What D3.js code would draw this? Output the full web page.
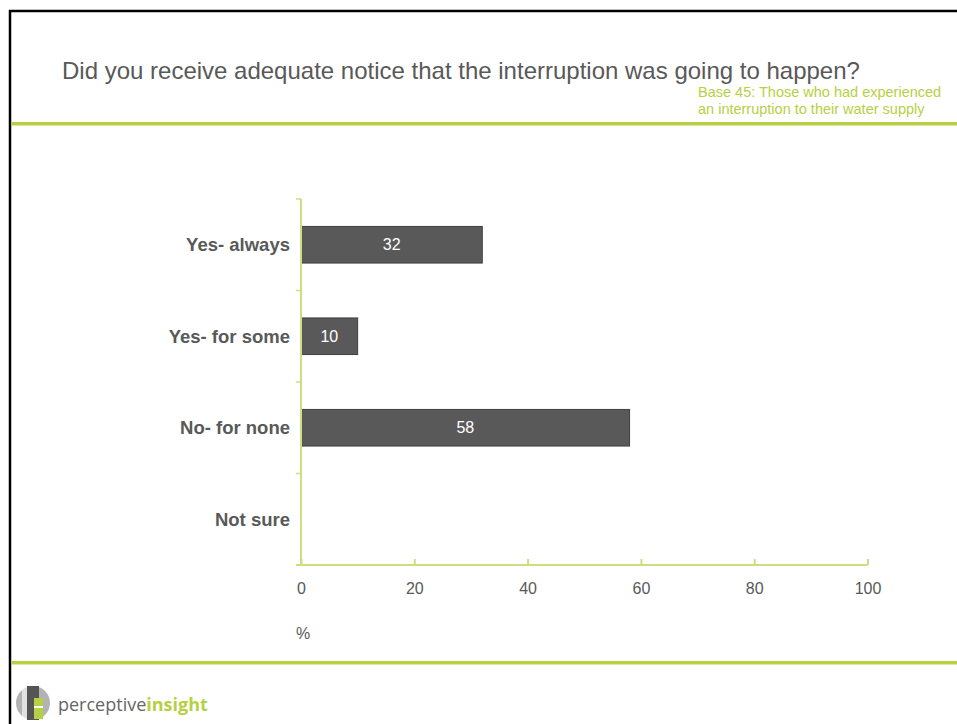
<!DOCTYPE html>
<html>
<head>
<meta charset="utf-8">
<script src="https://cdn.jsdelivr.net/npm/d3@7"></script>
<style>
  html, body { margin: 0; padding: 0; background: #fff; }
  svg { display: block; font-family: "Liberation Sans", Arial, sans-serif; }
</style>
</head>
<body>
<svg id="chart" width="957" height="724"></svg>
<script>
// Survey responses (% of respondents)
const categories = ["Yes- always", "Yes- for some", "No- for none", "Not sure"];
const values = [32, 10, 58, 0];
const xTicks = [0, 20, 40, 60, 80, 100];

const question = "Did you receive adequate notice that the interruption was going to happen?";
const baseNote = ["Base 45: Those who had experienced", "an interruption to their water supply"];

const grey = "#595959";
const green = "#b5d143";
const axisGreen = "#cbdf7f";

const svg = d3.select("#chart");

// slide frame
svg.append("path")
  .attr("d", "M10,724 V11 H957")
  .attr("fill", "none").attr("stroke", "#000").attr("stroke-width", 2.5);

// header
svg.append("text")
  .attr("x", 62).attr("y", 79)
  .attr("font-size", 24).attr("fill", grey)
  .text(question);

svg.append("text")
  .attr("x", 698).attr("y", 97)
  .attr("font-size", 14.5).attr("fill", green)
  .selectAll("tspan").data(baseNote).join("tspan")
  .attr("x", 698).attr("dy", (d, i) => i ? 17 : 0)
  .text(d => d);

svg.append("rect").attr("x", 11).attr("y", 122).attr("width", 946).attr("height", 3.5).attr("fill", green);
svg.append("rect").attr("x", 11).attr("y", 661).attr("width", 946).attr("height", 3.5).attr("fill", green);

// chart area
const x = d3.scaleLinear().domain([0, 100]).range([301, 867.5]);
const y = d3.scaleBand().domain(categories).range([199, 565]).paddingInner(0.6).paddingOuter(0.3);

const g = svg.append("g");

// bars
g.selectAll("rect.bar").data(values).join("rect")
  .attr("class", "bar")
  .attr("x", x(0))
  .attr("y", (d, i) => y(categories[i]))
  .attr("width", d => x(d) - x(0))
  .attr("height", y.bandwidth())
  .attr("fill", d => d > 0 ? grey : "none")
  .attr("stroke", d => d > 0 ? "#3f3f3f" : "none")
  .attr("stroke-width", 1);

// value labels
g.selectAll("text.val").data(values.map((v, i) => [v, i]).filter(d => d[0] > 0)).join("text")
  .attr("class", "val")
  .attr("x", d => (x(0) + x(d[0])) / 2)
  .attr("y", d => y(categories[d[1]]) + y.bandwidth() / 2)
  .attr("dy", "0.35em")
  .attr("text-anchor", "middle")
  .attr("font-size", 16).attr("fill", "#fff")
  .text(d => d[0]);

// x axis
const xAxis = g.append("g")
  .attr("transform", `translate(0,${565})`)
  .call(d3.axisBottom(x).tickValues(xTicks).tickSize(6).tickSizeOuter(0).tickPadding(12));
xAxis.select(".domain").attr("stroke", axisGreen).attr("stroke-width", 2).attr("d", `M296,0H${x(100)}`);
xAxis.selectAll(".tick line").attr("stroke", axisGreen).attr("stroke-width", 2).attr("y1", 0).attr("y2", -6);
xAxis.selectAll(".tick text").attr("fill", grey).attr("font-size", 16).attr("font-family", "Liberation Sans, Arial, sans-serif");

// y axis with boundary ticks between categories
const yAxisG = g.append("g");
yAxisG.append("line")
  .attr("x1", x(0)).attr("x2", x(0))
  .attr("y1", y.range()[0]).attr("y2", y.range()[1])
  .attr("stroke", axisGreen).attr("stroke-width", 2);
const bounds = d3.range(categories.length + 1).map(i => y.range()[0] + i * y.step());
yAxisG.selectAll("line.bt").data(bounds).join("line")
  .attr("class", "bt")
  .attr("x1", x(0) - 5).attr("x2", x(0))
  .attr("y1", d => d).attr("y2", d => d)
  .attr("stroke", axisGreen).attr("stroke-width", 1.5);

yAxisG.selectAll("text.cat").data(categories).join("text")
  .attr("class", "cat")
  .attr("x", 290)
  .attr("y", d => y(d) + y.bandwidth() / 2)
  .attr("dy", "0.35em")
  .attr("text-anchor", "end")
  .attr("font-size", 18.5).attr("font-weight", "bold").attr("fill", grey)
  .text(d => d);

// unit label
svg.append("text").attr("x", 296).attr("y", 639)
  .attr("font-size", 16).attr("fill", grey).text("%");

// footer logo
const logo = svg.append("g").attr("transform", "translate(33,703)");
logo.append("circle").attr("r", 17).attr("fill", "#b3b3b3");
logo.append("rect").attr("x", -11).attr("y", -16).attr("width", 5).attr("height", 32).attr("fill", "#fff").attr("opacity", 0.6);
logo.append("rect").attr("x", -6).attr("y", -17).attr("width", 12).attr("height", 34).attr("fill", "#555");
logo.append("rect").attr("x", 1).attr("y", -5).attr("width", 9).attr("height", 21).attr("fill", green);
logo.append("rect").attr("x", 1).attr("y", 3).attr("width", 9).attr("height", 2).attr("fill", "#fff");
const lt = svg.append("text").attr("x", 58).attr("y", 711).attr("font-family", "Open Sans, sans-serif").attr("font-size", 18);
lt.append("tspan").attr("fill", "#666").text("perceptive");
lt.append("tspan").attr("fill", green).attr("font-weight", "bold").text("insight");
</script>
</body>
</html>
